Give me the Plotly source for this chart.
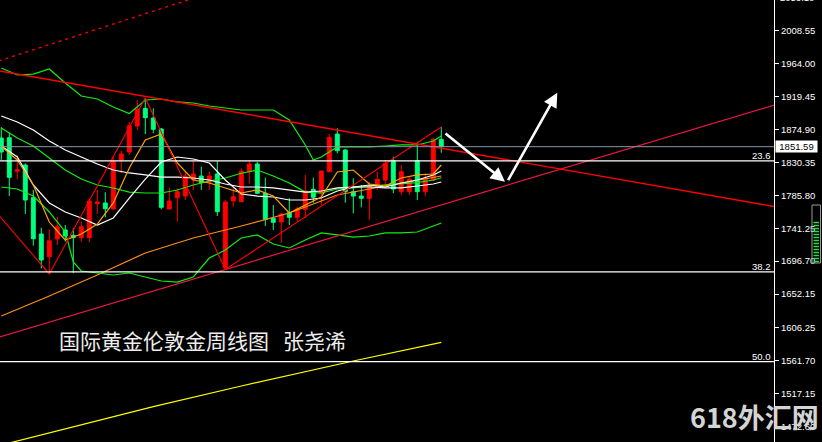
import plotly.graph_objects as go

# ---------------- weekly gold candles ----------------
bars = list(range(56))
opens = [1863.3, 1863.7, 1818.3, 1826.8, 1782.5, 1733.4, 1702.7, 1726.6, 1738.8, 1731.6,
         1728.4, 1728.4, 1774.4, 1775.4, 1767.2, 1833.6, 1844.4, 1879.6, 1903.5, 1890.4,
         1875.5, 1767.2, 1782.5, 1784.8, 1806.5, 1811.9, 1803.4, 1814.6, 1687.8, 1778.1,
         1777.1, 1817.7, 1828.1, 1788.5, 1754.7, 1749.6, 1762.2, 1756.0, 1766.8, 1793.9,
         1788.5, 1817.7, 1868.7, 1847.1, 1790.7, 1784.8, 1781.7, 1797.4, 1806.5, 1832.6,
         1790.7, 1790.7, 1832.6, 1790.7, 1806.5, 1861.6]
highs = [1878.2, 1870.5, 1840.3, 1829.0, 1793.0, 1741.9, 1739.8, 1756.8, 1745.6, 1741.5,
         1750.1, 1781.7, 1793.0, 1789.8, 1838.0, 1846.1, 1885.0, 1914.8, 1917.5, 1903.5,
         1876.9, 1796.1, 1795.3, 1818.7, 1832.2, 1824.5, 1817.7, 1832.2, 1779.4, 1795.3,
         1822.3, 1832.2, 1831.3, 1809.6, 1772.7, 1761.4, 1782.1, 1770.4, 1813.3, 1809.6,
         1819.1, 1868.7, 1876.5, 1848.4, 1808.8, 1799.7, 1804.2, 1817.7, 1833.6, 1838.0,
         1826.8, 1811.0, 1858.3, 1815.6, 1863.3, 1878.2]
lows = [1833.6, 1784.8, 1807.4, 1760.5, 1717.6, 1687.0, 1679.3, 1718.5, 1723.0, 1680.5,
        1723.0, 1722.2, 1760.5, 1756.0, 1766.6, 1815.6, 1840.3, 1874.2, 1868.7, 1869.7,
        1766.8, 1766.6, 1750.1, 1779.4, 1793.0, 1793.0, 1793.0, 1757.8, 1685.4, 1770.4,
        1776.7, 1802.0, 1787.5, 1744.2, 1738.8, 1721.6, 1745.6, 1751.0, 1755.1, 1775.8,
        1772.7, 1817.3, 1842.6, 1775.8, 1761.4, 1769.5, 1752.4, 1793.0, 1796.6, 1788.5,
        1786.2, 1786.2, 1779.4, 1784.8, 1805.1, 1843.4]
closes = [1844.4, 1810.1, 1820.4, 1779.4, 1727.0, 1698.2, 1724.3, 1743.3, 1730.7, 1728.4,
          1743.3, 1778.1, 1776.7, 1767.6, 1831.3, 1841.7, 1880.0, 1902.2, 1890.8, 1875.1,
          1769.5, 1778.1, 1790.7, 1811.9, 1814.6, 1802.8, 1811.9, 1763.6, 1776.7, 1783.9,
          1818.3, 1828.1, 1788.5, 1753.3, 1749.2, 1760.5, 1756.0, 1767.2, 1791.6, 1783.1,
          1818.7, 1864.3, 1846.1, 1790.7, 1784.8, 1781.7, 1798.4, 1807.4, 1829.1, 1794.3,
          1817.7, 1807.4, 1790.7, 1807.4, 1861.6, 1851.59]

# ---------------- indicator lines (sampled every other bar) ----------------
ma_idx = [0, 2, 4, 6, 8, 10, 12, 14, 16, 18, 20, 22, 24, 26, 28, 30, 32, 34, 36, 38,
          40, 42, 44, 46, 48, 50, 52, 54, 55]
ma_fast = [1852.0, 1833.6, 1799.7, 1749.6, 1725.3, 1733.4, 1746.9, 1775.4, 1822.7, 1860.6,
           1868.7, 1829.5, 1806.5, 1802.4, 1795.7, 1788.9, 1793.0, 1784.8, 1761.8, 1772.7,
           1783.5, 1817.3, 1820.0, 1801.1, 1798.4, 1809.2, 1813.3, 1814.6, 1826.8]
ma_white_fast = [1852.5, 1837.6, 1799.7, 1775.4, 1763.2, 1755.1, 1745.6, 1755.1, 1782.1, 1807.8,
                 1830.8, 1837.6, 1834.9, 1829.5, 1806.5, 1787.5, 1784.8, 1783.5, 1779.4, 1779.4,
                 1782.1, 1791.6, 1797.0, 1799.7, 1797.0, 1802.4, 1806.5, 1813.3, 1818.7]
ma_white_slow = [1893.1, 1885.0, 1874.2, 1859.3, 1847.1, 1837.6, 1828.1, 1820.0, 1816.0, 1813.3,
                 1810.5, 1810.5, 1809.2, 1806.5, 1801.1, 1797.0, 1797.0, 1795.7, 1793.0, 1790.2,
                 1791.6, 1795.7, 1797.0, 1797.0, 1795.7, 1795.7, 1798.4, 1801.1, 1803.8]
bb_mid = [1876.9, 1863.3, 1852.5, 1836.3, 1820.0, 1807.8, 1799.7, 1795.7, 1790.2, 1788.9,
          1788.9, 1793.0, 1799.7, 1805.1, 1809.2, 1815.6, 1820.0, 1811.9, 1802.4, 1790.2,
          1788.9, 1794.3, 1795.7, 1798.4, 1800.0, 1801.5, 1803.0, 1806.5, 1809.5]

bb_upper_idx = [0, 2, 4, 6, 8, 10, 12, 14, 16, 18, 20, 22, 24, 26, 28, 30, 32, 34, 36, 38,
                39, 40, 42, 44, 46, 48, 50, 52, 54, 55]
bb_upper = [1958.1, 1948.6, 1949.9, 1956.7, 1937.8, 1920.2, 1916.1, 1905.3, 1896.5, 1914.8,
            1916.1, 1912.1, 1910.7, 1906.6, 1903.9, 1901.2, 1901.2, 1901.2, 1887.7, 1853.9,
            1833.6, 1837.6, 1851.2, 1851.2, 1851.2, 1852.5, 1853.9, 1853.9, 1859.3, 1866.0]

bb_lower_idx = [0, 2, 4, 6, 8, 9, 10, 12, 14, 16, 18, 20, 22, 24, 26, 28, 30, 32, 34, 36,
                38, 40, 42, 44, 46, 48, 50, 52, 54, 55]
bb_lower = [1797.0, 1794.3, 1784.8, 1763.2, 1736.1, 1695.5, 1683.3, 1680.6, 1677.9, 1680.6,
            1675.2, 1669.8, 1668.4, 1675.2, 1700.9, 1711.7, 1728.0, 1732.1, 1719.9, 1714.5,
            1725.3, 1734.8, 1732.1, 1729.3, 1730.7, 1734.8, 1734.8, 1736.1, 1744.2, 1748.3]

ma_long_idx = [0, 6, 12, 18, 24, 30, 36, 42, 48, 55]
ma_long = [1622.4, 1649.5, 1677.9, 1707.7, 1728.0, 1744.2, 1761.8, 1786.2, 1798.4, 1811.9]

ma_very_long_idx = [0, 19, 30, 44, 55]
ma_very_long = [1447.8, 1499.8, 1527.7, 1561.5, 1586.8]

# ---------------- drawn objects ----------------
zigzag_idx = [-1, 6, 18, 28, 55]
zigzag_price = [1767.4, 1679.3, 1917.5, 1685.4, 1878.2]

resistance_idx = [0, 55]
resistance_price = [1953.7, 1849.5]
support_idx = [28, 55]
support_price = [1685.4, 1772.9]
channel_top_idx = [0, 20]
channel_top_price = [1968.8, 2038.5]

fib_high = 2075.14
fib_low = 1046.20
fib_ratios = [0.236, 0.382, 0.5]
fib_labels = ["23.6", "38.2", "50.0"]

last_price = 1851.59

tick_prices = [1472.60, 1517.15, 1561.70, 1606.25, 1652.15, 1696.70, 1741.25,
               1785.80, 1830.35, 1874.90, 1919.45, 1964.00, 2008.55]
top_tick = 2053.10

# arrows: (tail bar, tail price) -> (head bar, head price)
arrow_paths = [((55.34, 1871.0), (62.96, 1804.2)),
               ((63.25, 1804.2), (69.50, 1924.6))]

title_text = "国际黄金伦敦金周线图\u00a0\u00a0\u00a0张尧浠"
brand_text = "618外汇网"

# ---------------- axes geometry ----------------
PLOT_W = 774
X_LEFT = -1.3 / 8
X_RIGHT = (PLOT_W - 1.3) / 8
Y_MIN, Y_MAX = 1451.9, 2050.1
AXIS_FONT = dict(family="Liberation Sans", size=9.5, color="#FFFFFF")

fig = go.Figure()

fig.add_trace(go.Candlestick(
    x=bars, open=opens, high=highs, low=lows, close=closes,
    increasing=dict(line=dict(color="#FF0000", width=1), fillcolor="#FF0000"),
    decreasing=dict(line=dict(color="#00FF7F", width=1), fillcolor="#00FF7F"),
    whiskerwidth=0, hoverinfo="skip", showlegend=False,
))


def add_line(xs, ys, color, width=1.2, dash=None):
    fig.add_trace(go.Scatter(
        x=xs, y=ys, mode="lines",
        line=dict(color=color, width=width, dash=dash),
        hoverinfo="skip", showlegend=False,
    ))


def ray(idx, price):
    slope = (price[1] - price[0]) / (idx[1] - idx[0])
    xs = [X_LEFT - 1, X_RIGHT + 1]
    return xs, [price[0] + slope * (x - idx[0]) for x in xs]


# moving averages and bands
add_line(ma_very_long_idx, ma_very_long, "#FFFF00")
add_line(ma_long_idx, ma_long, "#FF8C1A")
add_line(bb_upper_idx, bb_upper, "#11EE11")
add_line(ma_idx, bb_mid, "#11EE11")
add_line(bb_lower_idx, bb_lower, "#11EE11")
add_line(ma_idx, ma_white_slow, "#FFFFFF")
add_line(ma_idx, ma_white_fast, "#FFFFFF")
add_line(ma_idx, ma_fast, "#FFA500")

# trend lines
xs, ys = ray(support_idx, support_price)
add_line(xs, ys, "#E8173F", 1.2)
xs, ys = ray(resistance_idx, resistance_price)
add_line(xs, ys, "#FF0000", 1.4)
xs, ys = ray(channel_top_idx, channel_top_price)
add_line(xs, ys, "#FF0000", 1.3, dash="3px,4px")
add_line(zigzag_idx, zigzag_price, "#FF0000", 1.1)

shapes = []
annotations = []

# fibonacci retracement levels
for ratio, label in zip(fib_ratios, fib_labels):
    level = fib_high - ratio * (fib_high - fib_low)
    shapes.append(dict(type="line", xref="paper", yref="y", x0=0, x1=1, y0=level, y1=level,
                       line=dict(color="#FFFFFF", width=1.2)))
    annotations.append(dict(xref="paper", yref="y", x=1, y=level, xanchor="right",
                            yanchor="bottom", xshift=-1, yshift=-2, text=label,
                            showarrow=False, font=AXIS_FONT))

# bid line and price tag
shapes.append(dict(type="line", xref="paper", yref="y", x0=0, x1=1,
                   y0=last_price, y1=last_price, line=dict(color="#8896A6", width=1)))
annotations.append(dict(xref="paper", yref="y", x=1, y=last_price, xanchor="left",
                        yanchor="middle", xshift=1, text=f"{last_price:.2f}",
                        showarrow=False, bgcolor="#FFFFFF", width=41, height=11,
                        borderpad=0, font=dict(family="Liberation Sans", size=9.5,
                                               color="#000000")))

# topmost scale label, mostly cut off at the top edge
annotations.append(dict(xref="paper", yref="paper", x=1, y=1.005, xanchor="left",
                        yanchor="middle", xshift=4, text=f"{top_tick:.2f}",
                        showarrow=False, font=AXIS_FONT))

# forecast arrows
for (tail, head) in arrow_paths:
    annotations.append(dict(xref="x", yref="y", axref="x", ayref="y",
                            x=head[0], y=head[1], ax=tail[0], ay=tail[1], text="",
                            showarrow=True, arrowhead=2, arrowsize=1.1, arrowwidth=2.6,
                            arrowcolor="#FFFFFF", standoff=0, startstandoff=0))

# chart caption
annotations.append(dict(xref="paper", yref="paper", x=57 / PLOT_W, y=1 - 340 / 442,
                        xanchor="left", yanchor="middle", text=title_text, showarrow=False,
                        font=dict(family="Noto Sans CJK SC", size=21, color="#EDEDED")))

# site mark
annotations.append(dict(xref="paper", yref="paper", x=688 / PLOT_W, y=1 - 416 / 442,
                        xanchor="left", yanchor="middle", text=brand_text, showarrow=False,
                        font=dict(family="Noto Sans CJK SC", size=27, color="#D4D4D4",
                                  weight="bold")))

# small level gauge at the right edge
gx0, gx1 = 812 / PLOT_W, 820.5 / PLOT_W
shapes.append(dict(type="rect", xref="paper", yref="paper", x0=gx0, x1=gx1,
                   y0=1 - 263 / 442, y1=1 - 205 / 442,
                   line=dict(color="#9A9A9A", width=1), fillcolor="rgba(0,0,0,0)"))
for k in range(14):
    gy = 1 - (222.5 + 3 * k) / 442
    shapes.append(dict(type="line", xref="paper", yref="paper",
                       x0=813.5 / PLOT_W, x1=819 / PLOT_W, y0=gy, y1=gy,
                       line=dict(color="#22DD44", width=1.5)))

fig.update_layout(
    width=822, height=442,
    margin=dict(l=0, r=48, t=0, b=0),
    paper_bgcolor="#000000", plot_bgcolor="#000000",
    showlegend=False, hovermode=False,
    xaxis=dict(range=[X_LEFT, X_RIGHT], visible=False,
               rangeslider=dict(visible=False), fixedrange=True),
    yaxis=dict(range=[Y_MIN, Y_MAX], side="right", showgrid=False, zeroline=False,
               showline=True, linecolor="#FFFFFF", linewidth=1, ticks="outside",
               ticklen=4, tickcolor="#FFFFFF", tickwidth=1,
               tickvals=tick_prices, ticktext=[f"{v:.2f}" for v in tick_prices],
               tickfont=AXIS_FONT, fixedrange=True),
    shapes=shapes,
    annotations=annotations,
)

fig.write_html("out.html")
